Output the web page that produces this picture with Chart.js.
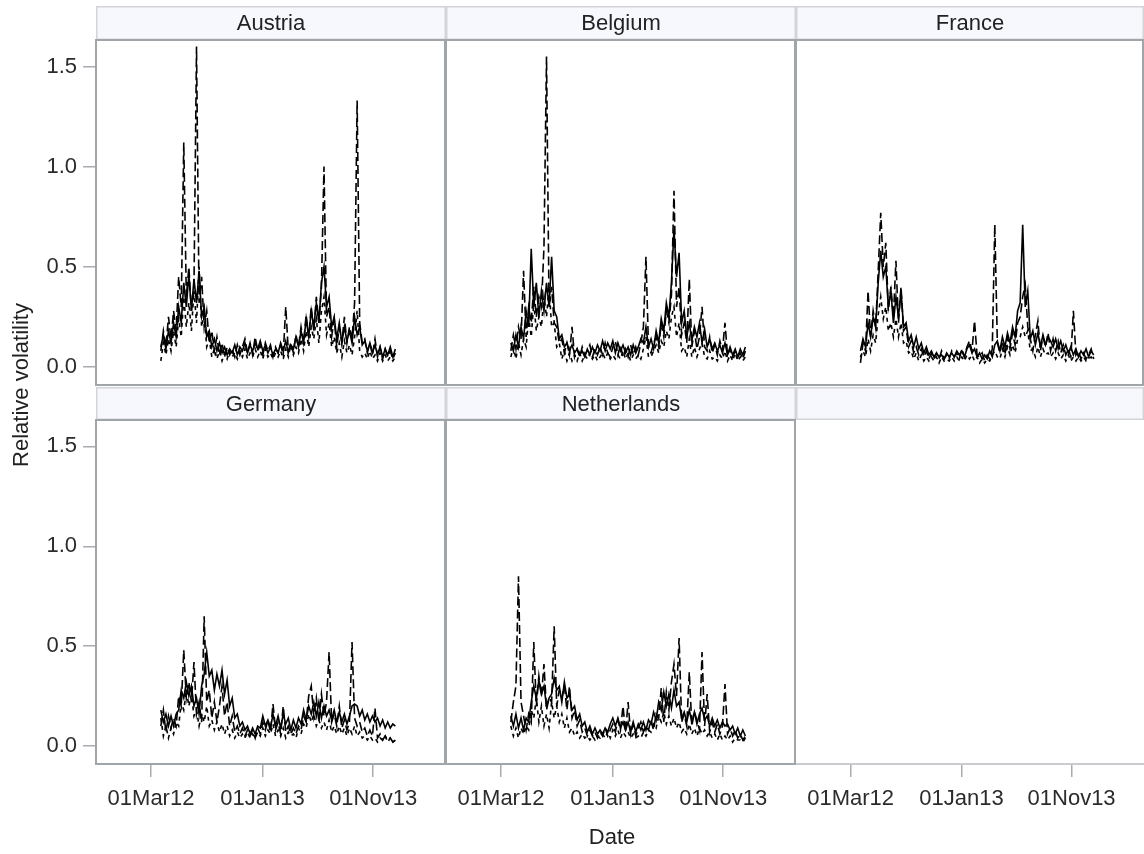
<!DOCTYPE html>
<html>
<head>
<meta charset="utf-8">
<script src="https://cdn.jsdelivr.net/npm/chart.js@4/dist/chart.umd.min.js"></script>
<style>
  html, body { margin: 0; padding: 0; background: #ffffff; }
  #wrap { position: relative; width: 1144px; height: 854px; overflow: hidden; background: #ffffff; }
  #wrap canvas { position: absolute; left: 0; top: 0; }
</style>
</head>
<body>
<div id="wrap"></div>
<script>
// ---- data: weekly relative volatility, three series per country ----
const seriesStart = '2012-03-28';
const stepDays = 7;
const tickDates = ['2012-03-01', '2013-01-01', '2013-11-01'];
const tickLabels = ['01Mar12', '01Jan13', '01Nov13'];
const yTickValues = [0, 0.5, 1.0, 1.5];
const countries = ['Austria', 'Belgium', 'France', 'Germany', 'Netherlands'];

const austriaA = [
  0.10,0.16,0.09,0.18,0.12, 0.22,0.15,0.30,0.22,0.42, 0.30,0.46,0.28,0.44,0.32, 0.48,0.25,0.30,0.15,0.18,
  0.10,0.14,0.08,0.12,0.07, 0.10,0.06,0.09,0.07,0.11, 0.06,0.10,0.08,0.12,0.07, 0.11,0.08,0.12,0.09,0.13,
  0.08,0.11,0.07,0.10,0.06, 0.09,0.07,0.12,0.08,0.13, 0.07,0.11,0.09,0.15,0.10, 0.18,0.12,0.24,0.15,0.28,
  0.20,0.32,0.22,0.42,0.50, 0.30,0.35,0.20,0.25,0.14, 0.22,0.12,0.20,0.13,0.18, 0.12,0.25,0.16,0.20,0.11,
  0.13,0.08,0.12,0.07,0.11, 0.06,0.10,0.05,0.09,0.06, 0.10,0.05,0.09];
const austriaB = [
  0.08,0.18,0.10,0.25,0.14, 0.28,0.18,0.45,0.30,1.12, 0.35,0.50,0.28,0.40,1.60, 0.32,0.45,0.20,0.28,0.12,
  0.18,0.08,0.15,0.06,0.12, 0.05,0.10,0.06,0.09,0.05, 0.11,0.06,0.10,0.14,0.07, 0.12,0.06,0.15,0.08,0.11,
  0.06,0.12,0.08,0.11,0.05, 0.10,0.07,0.11,0.06,0.30, 0.08,0.12,0.07,0.16,0.10, 0.20,0.12,0.26,0.15,0.30,
  0.18,0.35,0.22,0.40,1.00, 0.25,0.30,0.15,0.24,0.10, 0.20,0.12,0.25,0.12,0.20, 0.14,0.32,1.33,0.22,0.12,
  0.14,0.07,0.12,0.06,0.14, 0.05,0.10,0.04,0.09,0.05, 0.08,0.04,0.07];
const austriaC = [
  0.03,0.12,0.06,0.14,0.08, 0.18,0.10,0.24,0.15,0.35, 0.20,0.32,0.18,0.38,0.22, 0.50,0.20,0.26,0.10,0.14,
  0.05,0.09,0.04,0.08,0.03, 0.07,0.04,0.08,0.05,0.07, 0.04,0.08,0.05,0.09,0.04, 0.07,0.05,0.09,0.05,0.08,
  0.04,0.09,0.05,0.07,0.04, 0.07,0.05,0.08,0.04,0.09, 0.05,0.11,0.06,0.10,0.07, 0.14,0.08,0.18,0.10,0.20,
  0.14,0.24,0.12,0.28,0.35, 0.16,0.22,0.10,0.15,0.07, 0.12,0.05,0.13,0.07,0.11, 0.06,0.15,0.28,0.08,0.05,
  0.07,0.04,0.08,0.04,0.06, 0.03,0.07,0.03,0.06,0.03, 0.05,0.03,0.05];

const belgiumA = [
  0.12,0.08,0.16,0.10,0.20, 0.14,0.28,0.20,0.59,0.30, 0.42,0.25,0.38,0.28,0.42, 0.30,0.55,0.28,0.25,0.14,
  0.16,0.10,0.12,0.08,0.11, 0.07,0.09,0.06,0.08,0.05, 0.09,0.06,0.10,0.07,0.11, 0.08,0.13,0.08,0.12,0.09,
  0.13,0.07,0.12,0.08,0.11, 0.07,0.10,0.06,0.11,0.07, 0.10,0.14,0.12,0.20,0.10, 0.14,0.09,0.18,0.12,0.24,
  0.18,0.32,0.25,0.42,0.69, 0.45,0.57,0.22,0.28,0.15, 0.22,0.13,0.20,0.15,0.22, 0.12,0.19,0.10,0.14,0.09,
  0.12,0.08,0.11,0.07,0.12, 0.06,0.10,0.06,0.09,0.05, 0.09,0.06,0.10];
const belgiumB = [
  0.08,0.16,0.09,0.20,0.14, 0.48,0.15,0.30,0.22,0.40, 0.25,0.35,0.30,0.60,1.55, 0.30,0.40,0.22,0.20,0.12,
  0.14,0.07,0.12,0.06,0.20, 0.05,0.09,0.05,0.10,0.06, 0.08,0.11,0.05,0.09,0.06, 0.10,0.06,0.12,0.07,0.05,
  0.10,0.13,0.06,0.11,0.05, 0.09,0.05,0.11,0.06,0.10, 0.06,0.12,0.20,0.55,0.10, 0.07,0.12,0.15,0.10,0.22,
  0.15,0.28,0.22,0.36,0.88, 0.30,0.40,0.16,0.22,0.12, 0.44,0.10,0.18,0.09,0.15, 0.30,0.10,0.08,0.15,0.07,
  0.11,0.06,0.13,0.08,0.22, 0.06,0.09,0.05,0.08,0.05, 0.07,0.04,0.08];
const belgiumC = [
  0.05,0.10,0.04,0.12,0.06, 0.14,0.10,0.25,0.15,0.32, 0.18,0.25,0.20,0.35,0.25, 0.40,0.20,0.22,0.10,0.12,
  0.04,0.08,0.03,0.07,0.03, 0.06,0.03,0.07,0.03,0.06, 0.04,0.07,0.04,0.06,0.03, 0.05,0.07,0.04,0.07,0.04,
  0.06,0.04,0.06,0.04,0.08, 0.04,0.07,0.03,0.06,0.04, 0.06,0.04,0.09,0.15,0.05, 0.05,0.08,0.11,0.07,0.13,
  0.10,0.18,0.14,0.25,0.30, 0.15,0.22,0.08,0.10,0.05, 0.14,0.05,0.10,0.05,0.09, 0.12,0.05,0.04,0.08,0.04,
  0.05,0.03,0.06,0.04,0.08, 0.03,0.06,0.03,0.07,0.03, 0.05,0.03,0.05];

const franceA = [
  0.08,0.14,0.10,0.22,0.15, 0.25,0.20,0.42,0.58,0.45, 0.50,0.30,0.38,0.22,0.35, 0.25,0.38,0.20,0.22,0.13,
  0.16,0.10,0.15,0.09,0.12, 0.07,0.10,0.06,0.08,0.05, 0.07,0.05,0.06,0.04,0.07, 0.05,0.07,0.05,0.08,0.06,
  0.08,0.05,0.09,0.11,0.07, 0.09,0.05,0.07,0.04,0.06, 0.04,0.08,0.05,0.11,0.13, 0.08,0.15,0.10,0.17,0.12,
  0.20,0.15,0.28,0.32,0.71, 0.30,0.38,0.14,0.18,0.11, 0.17,0.10,0.16,0.11,0.15, 0.13,0.10,0.14,0.09,0.13,
  0.08,0.11,0.07,0.10,0.06, 0.09,0.05,0.08,0.06,0.09, 0.05,0.08,0.06];
const franceB = [
  0.02,0.12,0.08,0.38,0.15, 0.28,0.20,0.48,0.77,0.50, 0.62,0.28,0.40,0.25,0.53, 0.22,0.40,0.18,0.20,0.10,
  0.13,0.07,0.10,0.06,0.09, 0.05,0.08,0.04,0.07,0.04, 0.07,0.04,0.08,0.04,0.06, 0.04,0.08,0.05,0.07,0.04,
  0.09,0.05,0.10,0.13,0.08, 0.23,0.06,0.05,0.07,0.03, 0.06,0.04,0.09,0.71,0.12, 0.07,0.13,0.06,0.15,0.09,
  0.17,0.11,0.22,0.25,0.35, 0.41,0.20,0.14,0.08,0.16, 0.23,0.08,0.15,0.10,0.17, 0.08,0.14,0.08,0.13,0.07,
  0.11,0.06,0.09,0.05,0.28, 0.06,0.08,0.04,0.07,0.04, 0.06,0.09,0.04];
const franceC = [
  0.05,0.08,0.05,0.14,0.08, 0.16,0.12,0.26,0.35,0.24, 0.30,0.18,0.22,0.15,0.24, 0.15,0.22,0.12,0.13,0.07,
  0.08,0.04,0.07,0.03,0.06, 0.03,0.05,0.03,0.05,0.03, 0.05,0.02,0.05,0.03,0.04, 0.03,0.05,0.03,0.05,0.03,
  0.05,0.03,0.06,0.04,0.06, 0.03,0.05,0.02,0.04,0.02, 0.04,0.03,0.06,0.08,0.05, 0.04,0.09,0.05,0.10,0.06,
  0.11,0.07,0.14,0.15,0.20, 0.15,0.18,0.08,0.09,0.05, 0.10,0.05,0.09,0.06,0.07, 0.05,0.07,0.04,0.07,0.04,
  0.06,0.03,0.06,0.03,0.05, 0.03,0.05,0.03,0.05,0.03, 0.04,0.05,0.03];

const germanyA = [
  0.18,0.12,0.16,0.10,0.15, 0.10,0.16,0.18,0.28,0.24, 0.32,0.25,0.30,0.20,0.24, 0.16,0.30,0.36,0.47,0.35,
  0.38,0.28,0.36,0.30,0.38, 0.26,0.33,0.20,0.24,0.14, 0.16,0.10,0.12,0.08,0.10, 0.06,0.09,0.06,0.10,0.09,
  0.15,0.10,0.13,0.09,0.16, 0.10,0.15,0.09,0.16,0.11, 0.14,0.08,0.13,0.09,0.14, 0.11,0.18,0.13,0.20,0.16,
  0.22,0.15,0.22,0.14,0.20, 0.15,0.18,0.13,0.18,0.12, 0.17,0.12,0.16,0.11,0.15, 0.20,0.21,0.20,0.15,0.18,
  0.13,0.16,0.12,0.15,0.12, 0.14,0.10,0.13,0.09,0.12, 0.09,0.11,0.10];
const germanyB = [
  0.10,0.18,0.07,0.15,0.09, 0.14,0.10,0.25,0.20,0.48, 0.24,0.32,0.22,0.42,0.16, 0.22,0.12,0.65,0.22,0.28,
  0.14,0.22,0.12,0.20,0.30, 0.15,0.22,0.10,0.15,0.07, 0.10,0.06,0.09,0.05,0.08, 0.05,0.08,0.04,0.09,0.06,
  0.12,0.08,0.13,0.07,0.21, 0.08,0.12,0.06,0.20,0.07, 0.10,0.06,0.09,0.06,0.10, 0.08,0.15,0.12,0.25,0.30,
  0.15,0.24,0.12,0.26,0.15, 0.22,0.47,0.12,0.16,0.10, 0.20,0.09,0.13,0.08,0.12, 0.52,0.14,0.10,0.12,0.07,
  0.09,0.05,0.08,0.05,0.19, 0.04,0.06,0.03,0.05,0.03, 0.04,0.02,0.03];
const germanyC = [
  0.14,0.05,0.10,0.04,0.09, 0.06,0.12,0.10,0.22,0.18, 0.28,0.20,0.26,0.15,0.18, 0.10,0.16,0.12,0.20,0.10,
  0.13,0.08,0.12,0.07,0.11, 0.06,0.10,0.05,0.08,0.04, 0.07,0.04,0.06,0.04,0.07, 0.04,0.06,0.04,0.07,0.05,
  0.09,0.05,0.08,0.06,0.11, 0.05,0.08,0.05,0.09,0.04, 0.07,0.05,0.06,0.04,0.09, 0.06,0.11,0.09,0.16,0.12,
  0.16,0.10,0.13,0.09,0.12, 0.08,0.13,0.07,0.10,0.06, 0.10,0.06,0.09,0.05,0.09, 0.06,0.10,0.05,0.07,0.04,
  0.05,0.03,0.05,0.03,0.04, 0.02,0.04,0.03,0.05,0.02, 0.04,0.02,0.03];

const netherlandsA = [
  0.15,0.10,0.16,0.09,0.14, 0.08,0.14,0.12,0.22,0.30, 0.24,0.33,0.26,0.30,0.20, 0.24,0.26,0.34,0.28,0.30,
  0.22,0.32,0.24,0.26,0.18, 0.20,0.13,0.16,0.10,0.12, 0.07,0.10,0.06,0.09,0.06, 0.08,0.06,0.09,0.07,0.11,
  0.14,0.10,0.14,0.09,0.12, 0.08,0.12,0.07,0.12,0.07, 0.11,0.08,0.12,0.08,0.13, 0.11,0.17,0.13,0.22,0.18,
  0.27,0.20,0.26,0.19,0.28, 0.20,0.22,0.14,0.17,0.12, 0.18,0.12,0.17,0.11,0.16, 0.19,0.13,0.15,0.10,0.14,
  0.10,0.13,0.09,0.12,0.10, 0.11,0.08,0.10,0.06,0.09, 0.05,0.08,0.05];
const netherlandsB = [
  0.12,0.22,0.30,0.85,0.22, 0.15,0.08,0.16,0.12,0.52, 0.20,0.35,0.25,0.41,0.18, 0.24,0.22,0.60,0.20,0.28,
  0.24,0.30,0.18,0.30,0.14, 0.18,0.10,0.13,0.07,0.09, 0.05,0.08,0.05,0.07,0.04, 0.07,0.05,0.09,0.05,0.08,
  0.11,0.07,0.13,0.08,0.20, 0.07,0.22,0.06,0.11,0.05, 0.09,0.12,0.07,0.10,0.08, 0.13,0.08,0.16,0.14,0.29,
  0.12,0.27,0.18,0.32,0.41, 0.25,0.54,0.12,0.16,0.10, 0.37,0.10,0.17,0.13,0.08, 0.47,0.10,0.26,0.07,0.12,
  0.07,0.11,0.06,0.10,0.31, 0.06,0.09,0.05,0.08,0.04, 0.06,0.03,0.05];
const netherlandsC = [
  0.10,0.05,0.09,0.04,0.09, 0.06,0.10,0.08,0.18,0.14, 0.24,0.12,0.20,0.10,0.16, 0.09,0.22,0.14,0.20,0.12,
  0.16,0.09,0.14,0.07,0.09, 0.05,0.07,0.04,0.06,0.04, 0.05,0.03,0.05,0.03,0.05, 0.04,0.06,0.04,0.07,0.04,
  0.08,0.05,0.08,0.04,0.07, 0.05,0.07,0.04,0.06,0.04, 0.05,0.04,0.07,0.05,0.08, 0.07,0.11,0.09,0.15,0.12,
  0.17,0.11,0.15,0.10,0.14, 0.09,0.12,0.07,0.09,0.06, 0.11,0.06,0.09,0.05,0.09, 0.06,0.08,0.05,0.07,0.04,
  0.06,0.03,0.06,0.03,0.05, 0.03,0.05,0.02,0.04,0.03, 0.03,0.02,0.04];

// ---- page layout ----
const W = 1144, H = 854;
const FONT = '"Liberation Sans", Arial, sans-serif';
const TEXT_SIZE = 22;
const colLeft = [96, 446, 796];
const panelWidth = 350;
const rowBox = [
  { headerTop: 6, top: 40, bottom: 385 },
  { headerTop: 387, top: 420, bottom: 764 }
];
const Y_MIN = -0.09, Y_MAX = 1.632;

function dayOf(s) {
  const [y, m, d] = s.split('-').map(Number);
  return Math.round((Date.UTC(y, m - 1, d) - Date.UTC(2012, 2, 1)) / 86400000);
}
const tickDays = tickDates.map(dayOf);
const startDay = dayOf(seriesStart);
// x range shown in each panel (days from 01Mar12)
const X_MIN = -151, X_MAX = 810;

function points(values) {
  return values.map((v, i) => ({ x: startDay + i * stepDays, y: v }));
}

const panels = [
  { title: countries[0], col: 0, row: 0, series: [austriaA, austriaB, austriaC] },
  { title: countries[1], col: 1, row: 0, series: [belgiumA, belgiumB, belgiumC] },
  { title: countries[2], col: 2, row: 0, series: [franceA, franceB, franceC] },
  { title: countries[3], col: 0, row: 1, series: [germanyA, germanyB, germanyC] },
  { title: countries[4], col: 1, row: 1, series: [netherlandsA, netherlandsB, netherlandsC] },
  { title: '', col: 2, row: 1, series: [] }
];
const dashes = [[], [9, 4], [4, 4]];

// header strip, panel frame and shared axis titles
const panelDecor = {
  id: 'panelDecor',
  beforeDraw(chart, args, o) {
    const ctx = chart.ctx, a = chart.chartArea;
    ctx.save();
    ctx.fillStyle = '#f7f8fd';
    ctx.fillRect(a.left, o.headerTop, a.right - a.left, a.top - o.headerTop);
    ctx.strokeStyle = '#d2d4d7';
    ctx.lineWidth = 1.5;
    ctx.strokeRect(a.left + 0.75, o.headerTop + 0.75, a.right - a.left - 1.5, a.top - o.headerTop - 1.5);
    if (o.title) {
      ctx.fillStyle = '#222222';
      ctx.font = TEXT_SIZE + 'px ' + FONT;
      ctx.textAlign = 'center';
      ctx.textBaseline = 'middle';
      ctx.fillText(o.title, (a.left + a.right) / 2, (o.headerTop + a.top) / 2 + 1);
    }
    ctx.restore();
  },
  afterDraw(chart, args, o) {
    const ctx = chart.ctx, a = chart.chartArea;
    ctx.save();
    ctx.lineWidth = 2;
    if (o.frame) {
      ctx.strokeStyle = '#a0a5aa';
      ctx.beginPath();
      ctx.moveTo(a.left, a.top);
      ctx.lineTo(a.right - 1, a.top);
      ctx.lineTo(a.right - 1, a.bottom);
      ctx.lineTo(a.left, a.bottom);
      ctx.closePath();
      ctx.stroke();
    } else {
      ctx.strokeStyle = '#c9cbce';
      ctx.beginPath();
      ctx.moveTo(a.left, a.bottom);
      ctx.lineTo(a.right, a.bottom);
      ctx.stroke();
    }
    if (o.axisTitles) {
      ctx.fillStyle = '#222222';
      ctx.font = TEXT_SIZE + 'px ' + FONT;
      ctx.textAlign = 'center';
      ctx.textBaseline = 'middle';
      ctx.fillText('Date', 612, 838);
      ctx.translate(22, 385);
      ctx.rotate(-Math.PI / 2);
      ctx.fillText('Relative volatility', 0, 0);
    }
    ctx.restore();
  }
};

const wrap = document.getElementById('wrap');
panels.forEach((p, idx) => {
  const canvas = document.createElement('canvas');
  canvas.width = W;
  canvas.height = H;
  wrap.appendChild(canvas);
  const L = colLeft[p.col], R = L + panelWidth;
  const box = rowBox[p.row];
  const showX = p.row === 1;
  const showY = p.col === 0;

  new Chart(canvas, {
    type: 'line',
    data: {
      datasets: p.series.map((vals, i) => ({
        data: points(vals),
        borderColor: '#000000',
        borderWidth: 1.6,
        borderDash: dashes[i],
        pointRadius: 0,
        tension: 0,
        fill: false
      }))
    },
    plugins: [panelDecor],
    options: {
      responsive: false,
      animation: false,
      devicePixelRatio: 1,
      events: [],
      layout: {
        padding: {
          left: showY ? 0 : L,
          right: W - R,
          top: box.top,
          bottom: showX ? 0 : H - box.bottom
        }
      },
      plugins: {
        legend: { display: false },
        tooltip: { enabled: false },
        panelDecor: { title: p.title, headerTop: box.headerTop, frame: p.series.length > 0, axisTitles: idx === 0 }
      },
      scales: {
        x: {
          type: 'linear',
          min: X_MIN,
          max: X_MAX,
          display: showX,
          afterFit(s) { s.height = showX ? H - box.bottom : 0; },
          afterBuildTicks(s) { s.ticks = tickDays.map(v => ({ value: v })); },
          ticks: {
            autoSkip: false,
            maxRotation: 0,
            padding: 9,
            color: '#2b2b2b',
            font: { family: FONT, size: TEXT_SIZE },
            callback(v) { const k = tickDays.indexOf(v); return k >= 0 ? tickLabels[k] : ''; }
          },
          grid: { drawOnChartArea: false, drawTicks: true, tickLength: 13, color: '#a8abaf', lineWidth: 1.5 },
          border: { display: false }
        },
        y: {
          type: 'linear',
          min: Y_MIN,
          max: Y_MAX,
          display: showY,
          afterFit(s) { s.width = showY ? L : 0; },
          afterBuildTicks(s) { s.ticks = yTickValues.map(v => ({ value: v })); },
          ticks: {
            padding: 6,
            color: '#2b2b2b',
            font: { family: FONT, size: TEXT_SIZE },
            callback(v) { return Number(v).toFixed(1); }
          },
          grid: { drawOnChartArea: false, drawTicks: true, tickLength: 13, color: '#a8abaf', lineWidth: 1.5 },
          border: { display: false }
        }
      }
    }
  });
});
</script>
</body>
</html>
